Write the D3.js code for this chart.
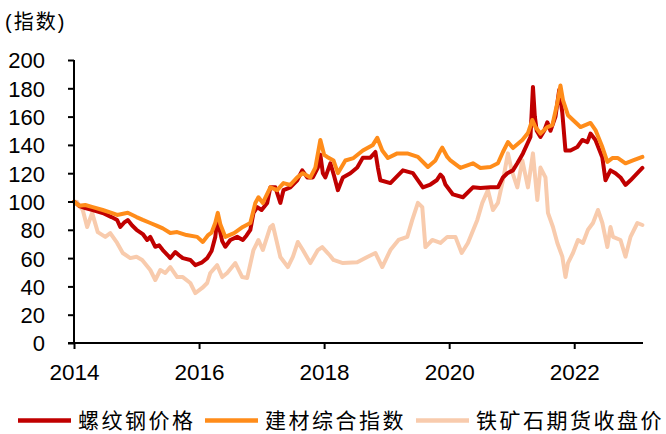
<!DOCTYPE html>
<html><head><meta charset="utf-8">
<script src="https://cdn.jsdelivr.net/npm/d3@7"></script>
<style>
html,body{margin:0;padding:0;background:#fff;}
svg{display:block;}
</style></head>
<body><svg id="c" width="666" height="434"></svg>
<script>
// ---- data (time in fractional years, value = index) ----
const rebar = [[2014.0,100],[2014.08,97],[2014.18,95.4],[2014.3,94],[2014.46,91.9],[2014.6,89],[2014.69,86.9],[2014.74,82],[2014.8,85],[2014.86,86.9],[2014.93,83],[2015.0,80],[2015.1,77],[2015.17,72.8],[2015.22,75],[2015.3,68],[2015.36,69],[2015.42,65.7],[2015.5,62],[2015.54,60],[2015.62,64.3],[2015.68,62],[2015.74,60],[2015.86,58.7],[2015.94,55],[2016.05,57],[2016.13,60],[2016.2,65],[2016.26,75],[2016.29,87],[2016.32,82],[2016.37,72],[2016.42,68],[2016.5,72.8],[2016.61,75],[2016.7,72.8],[2016.76,76],[2016.82,80],[2016.87,91.9],[2016.93,96],[2017.0,94],[2017.09,99],[2017.14,110],[2017.22,110],[2017.3,99],[2017.35,108],[2017.46,110],[2017.57,115],[2017.65,122],[2017.73,117],[2017.82,117],[2017.9,124],[2017.94,133],[2017.98,120],[2018.02,117],[2018.1,127],[2018.16,118],[2018.22,108],[2018.3,117],[2018.42,120],[2018.53,124],[2018.62,131],[2018.74,131],[2018.82,135],[2018.86,124],[2018.9,115],[2019.06,113],[2019.15,117],[2019.26,122],[2019.42,120],[2019.58,110],[2019.7,112],[2019.8,115],[2019.86,119],[2019.9,117],[2019.94,112],[2020.06,105],[2020.22,103],[2020.38,110],[2020.5,109.5],[2020.66,110],[2020.78,110],[2020.86,117],[2020.93,120],[2021.02,122],[2021.09,127],[2021.18,134],[2021.3,145.6],[2021.34,181],[2021.37,160],[2021.4,150],[2021.46,145.6],[2021.52,150],[2021.57,156],[2021.62,150],[2021.7,160],[2021.76,179],[2021.81,162.5],[2021.86,136],[2021.94,136],[2022.05,138.5],[2022.13,143.5],[2022.21,142],[2022.26,148],[2022.34,143.5],[2022.45,131],[2022.5,115],[2022.58,122],[2022.66,120],[2022.74,117],[2022.82,111.7],[2022.9,115],[2023.01,120],[2023.09,123.7]];

const buildingMaterials = [[2014.0,100],[2014.08,97],[2014.18,97.5],[2014.3,96],[2014.46,94],[2014.6,92],[2014.69,90.5],[2014.86,92],[2015.0,89],[2015.1,87],[2015.22,84.8],[2015.32,83],[2015.42,81],[2015.54,77.7],[2015.65,78.4],[2015.8,76.3],[2015.97,75],[2016.06,71.4],[2016.14,76],[2016.2,78],[2016.26,85],[2016.3,92],[2016.34,84],[2016.42,75],[2016.56,77.7],[2016.7,82],[2016.82,84.8],[2016.9,99],[2016.95,103],[2017.02,99],[2017.14,110],[2017.25,108],[2017.35,113],[2017.46,111.7],[2017.57,117],[2017.66,120],[2017.78,117],[2017.86,124],[2017.94,143.5],[2018.0,133],[2018.05,131.5],[2018.15,129],[2018.22,120],[2018.34,129],[2018.47,130.7],[2018.62,136],[2018.78,140],[2018.85,145],[2018.93,136],[2019.02,130.7],[2019.17,134],[2019.33,134],[2019.5,131.5],[2019.66,124.4],[2019.78,129],[2019.86,136],[2019.89,138],[2019.97,131.5],[2020.02,129],[2020.18,123.7],[2020.38,127],[2020.5,123.7],[2020.66,124.4],[2020.78,127],[2020.86,135],[2020.94,142],[2021.02,137.8],[2021.17,143.5],[2021.26,148.4],[2021.33,157.6],[2021.38,152.6],[2021.46,148],[2021.57,152.6],[2021.65,154],[2021.73,169.6],[2021.78,182],[2021.82,171.7],[2021.9,161],[2021.98,157.6],[2022.1,152.6],[2022.26,155.5],[2022.34,150.5],[2022.45,138.5],[2022.53,128],[2022.61,130.7],[2022.7,130.7],[2022.82,127],[2022.94,129],[2023.09,131.5]];

const ironOre = [[2014.0,100],[2014.05,99.6],[2014.1,96],[2014.14,94],[2014.21,82],[2014.29,92],[2014.38,78.4],[2014.5,75],[2014.58,77.7],[2014.69,70.7],[2014.78,63.6],[2014.9,60],[2015.0,61],[2015.09,58.7],[2015.22,51.6],[2015.3,44.5],[2015.38,51.6],[2015.46,49.5],[2015.54,53.7],[2015.65,46.6],[2015.74,46.6],[2015.86,42.4],[2015.94,35.3],[2016.05,38.9],[2016.13,42.4],[2016.18,49.5],[2016.29,55],[2016.37,46.6],[2016.45,49.5],[2016.58,56.5],[2016.69,46.6],[2016.77,46],[2016.87,65.7],[2016.95,72.8],[2017.02,65.7],[2017.14,82],[2017.18,83.4],[2017.3,60.8],[2017.42,53.7],[2017.5,60.8],[2017.58,71.4],[2017.66,65.7],[2017.78,56.5],[2017.9,65.7],[2017.97,67.8],[2018.09,62],[2018.15,58.7],[2018.3,56.5],[2018.53,57],[2018.69,60.8],[2018.82,63.6],[2018.93,53.7],[2019.06,65.7],[2019.19,72.8],[2019.33,75],[2019.41,87],[2019.5,99],[2019.57,96],[2019.62,67.8],[2019.73,72.8],[2019.86,70.7],[2019.97,75],[2020.1,75],[2020.2,63.6],[2020.3,70.7],[2020.45,87],[2020.53,99],[2020.62,108],[2020.7,94],[2020.78,99],[2020.86,115],[2020.94,134],[2021.0,122],[2021.09,110],[2021.17,129],[2021.26,110],[2021.34,134],[2021.41,101],[2021.46,124],[2021.54,117],[2021.58,92],[2021.66,82],[2021.73,70.7],[2021.81,61],[2021.86,46.6],[2021.9,56.5],[2021.98,63.6],[2022.06,72.8],[2022.14,70.7],[2022.22,80],[2022.3,84.8],[2022.38,94],[2022.45,84.8],[2022.53,67.8],[2022.58,82],[2022.62,75],[2022.74,72.8],[2022.82,61],[2022.9,75],[2023.01,84.8],[2023.09,83.4]];

const seriesNames = ["螺纹钢价格", "建材综合指数", "铁矿石期货收盘价"];
const seriesColors = ["#C00000", "#FF8C1A", "#F8CBAD"];
const xTicks = [2014, 2016, 2018, 2020, 2022];
const yTicks = [0, 20, 40, 60, 80, 100, 120, 140, 160, 180, 200];
const yUnit = "(指数)";

// ---- drawing ----
const svg = d3.select("#c");
const x = d3.scaleLinear().domain([2014, 2023.1]).range([74, 643]);
const y = d3.scaleLinear().domain([0, 200]).range([343, 60]);
const numFont = "'Liberation Sans', Arial, sans-serif";
const cjkFont = "'Liberation Sans', 'Noto Sans CJK SC', sans-serif";

svg.append("text").attr("x", 5).attr("y", 29)
  .attr("font-family", cjkFont).attr("font-size", 20).attr("letter-spacing", 2).attr("fill", "#000")
  .text(yUnit);

const line = d3.line().x(d => x(d[0])).y(d => y(d[1]));
const data = [ironOre, rebar, buildingMaterials];
const colorIdx = [2, 0, 1];
data.forEach((s, i) => {
  svg.append("path").attr("d", line(s)).attr("fill", "none")
    .attr("stroke", seriesColors[colorIdx[i]]).attr("stroke-width", 4)
    .attr("stroke-linejoin", "round").attr("stroke-linecap", "round");
});

// y axis
const yAxis = d3.axisLeft(y).tickValues(yTicks).tickSize(6).tickPadding(23);
const gy = svg.append("g").attr("transform", "translate(74,0)").call(yAxis);
gy.select(".domain").attr("stroke", "#000").attr("stroke-width", 2).attr("d", "M0,60V343");
gy.selectAll(".tick line").attr("stroke", "#000").attr("stroke-width", 2);
gy.selectAll(".tick text").attr("font-family", numFont).attr("font-size", 22).attr("fill", "#000").attr("dy", "0.36em");

// x axis
const xAxis = d3.axisBottom(x).tickValues(xTicks).tickFormat(d3.format("d")).tickSize(6).tickPadding(0);
const gx = svg.append("g").attr("transform", "translate(0,343)").call(xAxis);
gx.select(".domain").attr("stroke", "#000").attr("stroke-width", 2).attr("d", "M68,0H643");
gx.selectAll(".tick line").attr("stroke", "#000").attr("stroke-width", 2);
gx.selectAll(".tick text").attr("font-family", numFont).attr("font-size", 22.5).attr("fill", "#000")
  .attr("dy", null).attr("y", 37);

// legend
const legX = [18, 205, 416];
const lg = svg.append("g");
seriesNames.forEach((n, i) => {
  lg.append("line").attr("x1", legX[i]).attr("x2", legX[i] + 53)
    .attr("y1", 420.5).attr("y2", 420.5)
    .attr("stroke", seriesColors[i]).attr("stroke-width", 4.5);
  lg.append("text").attr("x", legX[i] + 60).attr("y", 428)
    .attr("font-family", "'Noto Sans CJK SC', sans-serif").attr("font-size", 21)
    .attr("letter-spacing", 2.5).attr("fill", "#000").text(n);
});
</script></body></html>
